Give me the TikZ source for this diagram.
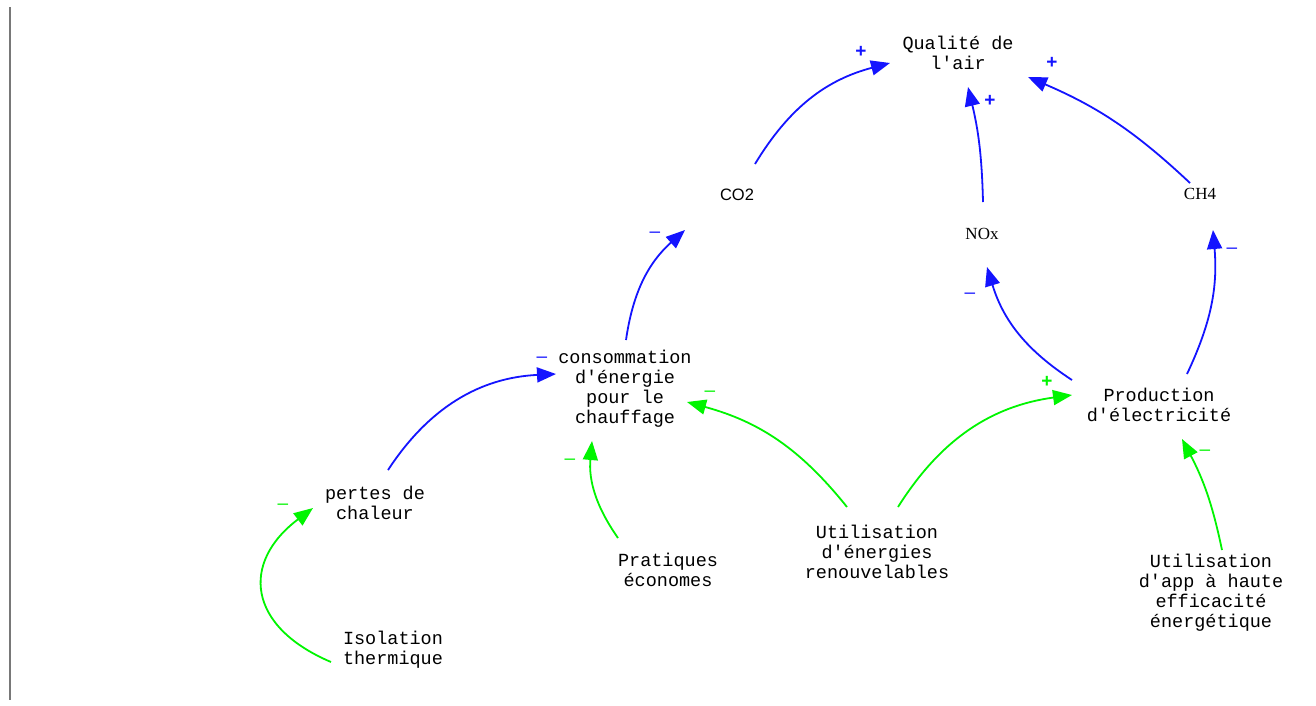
\documentclass[tikz,border=0pt]{standalone}
\usepackage{fontspec}
\newfontfamily\monof{Liberation Mono}
\newfontfamily\sansf{Liberation Sans}
\newfontfamily\seriff{Liberation Serif}
\usetikzlibrary{arrows.meta}
\definecolor{cblue}{RGB}{20,20,255}
\definecolor{cgreen}{RGB}{0,245,0}
\definecolor{cgray}{RGB}{120,120,120}
\tikzset{
  var/.style={font=\monof\fontsize{18.5}{20}\selectfont, align=center, inner sep=0pt},
  vsans/.style={font=\sansf\fontsize{16.5}{20}\selectfont, inner sep=0pt},
  vserif/.style={font=\seriff\fontsize{17}{20}\selectfont, inner sep=0pt},
  lnk/.style={line width=1.8pt, -{Triangle[length=19pt,width=15pt]}},
  pl/.style={lnk, draw=cblue},
  gl/.style={lnk, draw=cgreen},
  sgn/.style={font=\sansf\bfseries\fontsize{19}{20}\selectfont, inner sep=0pt},
  msgn/.style={font=\sansf\fontsize{19}{20}\selectfont, inner sep=0pt},
}
\begin{document}
\begin{tikzpicture}[x=1pt,y=1pt]
\useasboundingbox (0,0) rectangle (1316,-705);
\fill[white] (0,0) rectangle (1316,-705);
\draw[cgray, line width=2pt] (10,-7) -- (10,-700);

\node[var] (qual) at (958,-53) {Qualité de\\l'air};
\node[vsans] (co2) at (737,-195) {CO2};
\node[vserif] (nox) at (982,-234) {NOx};
\node[vserif] (ch4) at (1200,-194) {CH4};
\node[var] (cons) at (625,-389) {consommation\\d'énergie\\pour le\\chauffage};
\node[var] (prod) at (1159,-405) {Production\\d'électricité};
\node[var] (pertes) at (375,-503) {pertes de\\chaleur};
\node[var] (prat) at (668,-570) {Pratiques\\économes};
\node[var] (renouv) at (877,-552) {Utilisation\\d'énergies\\renouvelables};
\node[var] (app) at (1211,-593) {Utilisation\\d'app à haute\\efficacité\\énergétique};
\node[var] (isol) at (393,-650) {Isolation\\thermique};

% blue links
\draw[pl] ([shift={(18,31)}]co2.center) to[bend left=22] ([shift={(-68,-10)}]qual.center);
\draw[pl] ([shift={(1,32)}]nox.center) to[bend right=6] ([shift={(10,-34)}]qual.center);
\draw[pl] ([shift={(-10,11)}]ch4.center) to[bend right=10] ([shift={(70,-24)}]qual.center);
\draw[pl] ([shift={(1,49)}]cons.center) to[bend left=20] ([shift={(-52,-35)}]co2.center);
\draw[pl] ([shift={(-87,25)}]prod.center) to[bend left=20] ([shift={(5,-33)}]nox.center);
\draw[pl] ([shift={(28,31)}]prod.center) to[bend right=15] ([shift={(13,-36)}]ch4.center);
\draw[pl] ([shift={(13,33)}]pertes.center) to[bend left=27] ([shift={(-69,15)}]cons.center);
% green links
\draw[gl] ([shift={(-30,45)}]renouv.center) to[bend right=18] ([shift={(62,-13)}]cons.center);
\draw[gl] ([shift={(21,45)}]renouv.center) to[bend left=25] ([shift={(-87,10)}]prod.center);
\draw[gl] ([shift={(-50,32)}]prat.center) to[bend left=20] ([shift={(-33,-52)}]cons.center);
\draw[gl] ([shift={(11,43)}]app.center) to[bend right=8] ([shift={(23,-34)}]prod.center);
\draw[gl] ([shift={(-62,-12)}]isol.center) to[out=157,in=217,looseness=1.5] ([shift={(-62,-5)}]pertes.center);

% polarity signs
\node[sgn, cblue] (s1) at (861,-52) {+};
\node[sgn, cblue] (s2) at (990,-101) {+};
\node[sgn, cblue] (s3) at (1052,-63) {+};
\node[msgn, cblue] (s4) at (655,-235) {–};
\node[msgn, cblue] (s5) at (970,-296) {–};
\node[msgn, cblue] (s6) at (1232,-251) {–};
\node[msgn, cblue] (s7) at (542,-360) {–};
\node[msgn, cgreen] (s8) at (710,-394) {–};
\node[sgn, cgreen] (s9) at (1047,-382) {+};
\node[msgn, cgreen] (s10) at (570,-462) {–};
\node[msgn, cgreen] (s11) at (1205,-453) {–};
\node[msgn, cgreen] (s12) at (283,-507) {–};
\end{tikzpicture}
\end{document}
